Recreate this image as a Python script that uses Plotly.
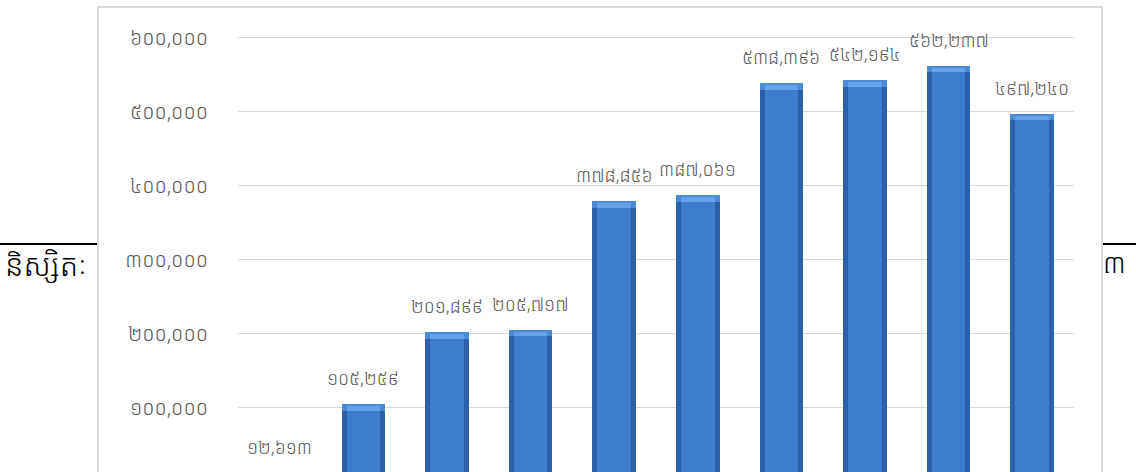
import plotly.graph_objects as go

categories = ["ក", "ខ", "គ", "ឃ", "ង", "ច", "ឆ", "ជ", "ឈ", "ញ"]
values = [12613, 105259, 201899, 205717, 378856, 387061, 538396, 542194, 562237, 497240]
tick_vals = [0, 100000, 200000, 300000, 400000, 500000, 600000]
tick_text = ["០", "១០០,០០០", "២០០,០០០", "៣០០,០០០", "៤០០,០០០", "៥០០,០០០", "៦០០,០០០"]
left_text = "និស្សិតៈ"
right_text = "៣"

KH = str.maketrans("0123456789", "០១២៣៤៥៦៧៨៩")
labels = [f"{v:,}".translate(KH) for v in values]

FONT = "Khmer OS, Khmer OS System, Noto Sans Khmer, DejaVu Sans, sans-serif"

W, H = 1136, 500          # viewport shows the top 472 px, like the cropped reference
L, R, T, B = 238, 62, 20, 0
PW, PH = W - L - R, H - T - B


def px(x):
    return (x - L) / PW


def py(y):
    return (H - B - y) / PH


fig = go.Figure()
bevel = 9000
fig.add_trace(go.Bar(x=categories, y=values, width=0.52, marker=dict(color="#2c60aa", line=dict(width=0)),
                     hoverinfo="skip"))
fig.add_trace(go.Bar(x=categories, y=values, width=0.40, marker=dict(color="#3c7dcd", line=dict(width=0)),
                     hoverinfo="skip"))
fig.add_trace(go.Bar(x=categories, y=[bevel] * len(values), base=[v - bevel for v in values], width=0.52,
                     marker=dict(color="#4a8bd8", line=dict(width=0)), hoverinfo="skip"))
fig.add_trace(go.Bar(x=categories, y=[bevel * 0.7] * len(values), base=[v - bevel for v in values], width=0.40,
                     marker=dict(color="#64a3ea", line=dict(width=0)), hoverinfo="skip"))

for c, v, t in zip(categories, values, labels):
    fig.add_annotation(x=c, y=v, text=t, showarrow=False, yshift=26, yanchor="middle",
                       font=dict(family=FONT, size=18, color="#595959", weight=300))

# document background elements
shapes = [
    dict(type="line", xref="paper", yref="paper", x0=px(0), x1=px(98), y0=py(244), y1=py(244),
         line=dict(color="black", width=2), layer="below"),
    dict(type="line", xref="paper", yref="paper", x0=px(1102), x1=px(1136), y0=py(244), y1=py(244),
         line=dict(color="black", width=2), layer="below"),
    dict(type="rect", xref="paper", yref="paper", x0=px(98), x1=px(1102), y0=py(H + 10), y1=py(7),
         fillcolor="white", line=dict(color="#d9d9d9", width=2), layer="below"),
]
fig.add_annotation(xref="paper", yref="paper", x=px(3), y=py(264), xanchor="left", yanchor="middle",
                   text=left_text, showarrow=False, font=dict(family=FONT, size=30, color="black", weight=300))
fig.add_annotation(xref="paper", yref="paper", x=px(1101), y=py(262), xanchor="left", yanchor="middle",
                   text=right_text, showarrow=False, font=dict(family=FONT, size=27, color="black", weight=300))

px_per_unit = 0.7406 / 1000
zero_px = 482
y_top = (zero_px - T) / px_per_unit
y_bot = (zero_px - (H - B)) / px_per_unit

fig.update_layout(
    width=W, height=H,
    margin=dict(l=L, r=R, t=T, b=B, pad=0),
    barmode="overlay",
    bargap=0,
    showlegend=False,
    paper_bgcolor="white",
    plot_bgcolor="rgba(0,0,0,0)",
    shapes=shapes,
    xaxis=dict(type="category", showticklabels=False, showgrid=False, zeroline=False, showline=False,
               ticks="", range=[-0.5, len(categories) - 0.5]),
    yaxis=dict(range=[y_bot, y_top], tickvals=tick_vals, ticktext=tick_text, showgrid=True,
               gridcolor="#d9d9d9", gridwidth=1, zeroline=False, showline=False, ticks="",
               ticklabelstandoff=29, tickfont=dict(family=FONT, size=20, color="#595959", weight=300)),
)

fig.write_html("out.html", config={"displayModeBar": False},
               post_script="document.body.style.margin='0px';")
